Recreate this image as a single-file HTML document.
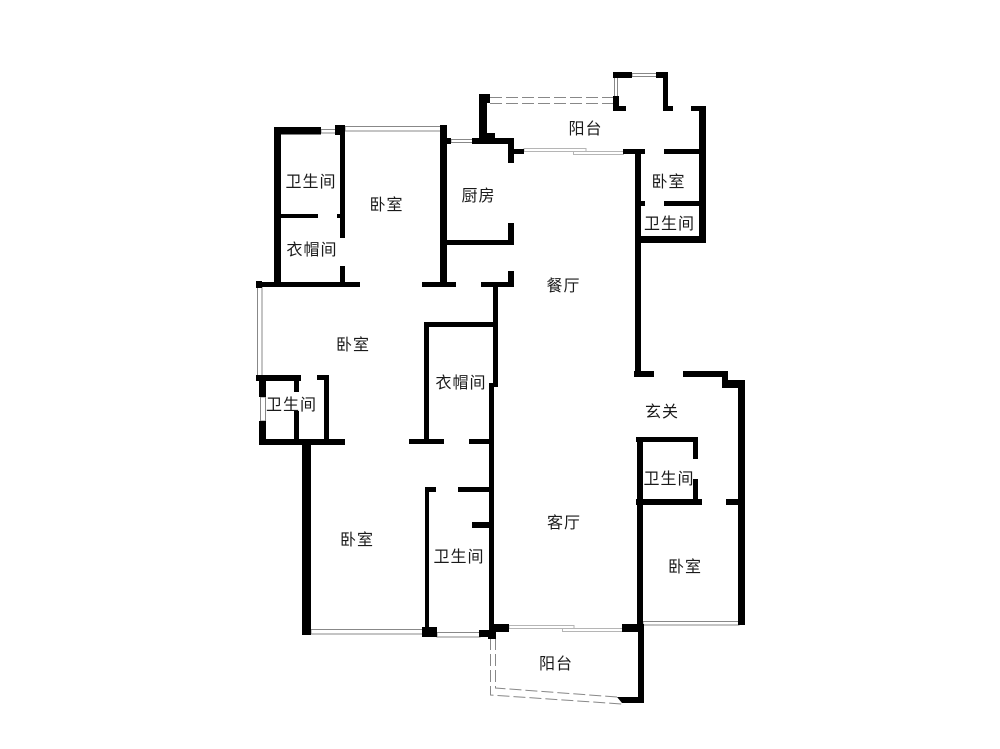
<!DOCTYPE html>
<html lang="zh">
<head>
<meta charset="utf-8">
<style>
html,body{margin:0;padding:0;background:#fff;}
svg{display:block;}
text{font-family:"Liberation Sans","Noto Sans CJK SC",sans-serif;font-size:16px;letter-spacing:1px;fill:#1a1a1a;text-anchor:middle;}
</style>
</head>
<body>
<svg width="1000" height="749" viewBox="0 0 1000 749" xmlns="http://www.w3.org/2000/svg">
<rect width="1000" height="749" fill="#fff"/>
<!-- windows -->
<g fill="#fff" stroke="#888" stroke-width="1">
<rect x="321" y="129.5" width="15" height="3.5"/>
<rect x="345" y="126.5" width="96" height="4.5"/>
<rect x="451" y="139.5" width="22" height="3"/>
<rect x="632" y="73.5" width="25" height="3"/>
<rect x="614.5" y="77" width="3" height="31"/>
<rect x="257.5" y="286" width="4.5" height="90"/>
<rect x="260.5" y="397" width="5" height="24"/>
<rect x="311" y="629.5" width="112" height="4.5"/>
<rect x="437" y="632.5" width="43" height="4.5"/>
<rect x="643" y="621.5" width="96" height="3.5"/>
</g>
<g fill="#fff" stroke="#b5b5b5" stroke-width="1">
<rect x="524" y="148.5" width="62" height="3"/>
<rect x="573.5" y="151.5" width="50" height="3"/>
<rect x="509" y="625.5" width="65" height="3"/>
<rect x="562.5" y="628.5" width="60" height="3"/>
</g>
<!-- dashed -->
<g fill="none" stroke="#888" stroke-width="1" stroke-dasharray="12 4">
<path d="M490 97.5H613"/>
<path d="M490 103.5H613"/>
<path d="M490.5 638V695L622 704"/>
<path d="M495.5 638V688L617 697"/>
</g>
<!-- walls -->
<g fill="#000">
<rect x="274" y="127" width="47" height="7.5"/>
<rect x="274" y="127" width="7" height="160"/>
<rect x="335" y="125" width="10" height="10"/>
<rect x="340" y="125" width="5" height="113"/>
<rect x="340" y="266" width="5" height="20"/>
<rect x="281" y="214" width="37" height="4"/>
<rect x="337" y="214" width="4" height="4"/>
<rect x="440" y="125" width="7" height="160"/>
<rect x="447" y="138" width="4" height="6"/>
<rect x="472" y="138" width="42" height="6"/>
<rect x="479" y="94" width="11" height="9"/>
<rect x="479" y="94" width="8" height="46"/>
<rect x="479" y="133" width="16" height="6"/>
<rect x="508" y="138" width="6" height="25"/>
<rect x="514" y="149" width="10" height="5"/>
<rect x="447" y="240" width="67" height="5"/>
<rect x="508" y="223" width="6" height="22"/>
<rect x="256" y="282" width="104" height="5"/>
<rect x="256" y="281" width="6" height="7"/>
<rect x="422" y="282" width="34" height="5"/>
<rect x="481" y="282" width="33" height="5"/>
<rect x="508" y="271" width="6" height="16"/>
<!-- top bay -->
<rect x="613" y="72" width="19" height="6"/>
<rect x="656" y="72" width="12" height="6"/>
<rect x="663" y="72" width="5" height="39"/>
<rect x="663" y="106" width="10" height="5"/>
<rect x="613" y="96" width="6" height="15"/>
<rect x="613" y="106" width="13" height="5"/>
<rect x="691" y="106" width="15" height="5"/>
<rect x="699" y="106" width="7" height="137"/>
<rect x="623" y="149" width="22" height="5"/>
<rect x="664" y="149" width="36" height="5"/>
<rect x="635" y="201" width="10" height="5"/>
<rect x="664" y="201" width="36" height="5"/>
<rect x="635" y="236" width="71" height="7"/>
<rect x="635" y="149" width="6" height="226"/>
<!-- entry -->
<rect x="634" y="371" width="20" height="6"/>
<rect x="683" y="371" width="45" height="6"/>
<rect x="722" y="371" width="6" height="17"/>
<rect x="722" y="380" width="23" height="8"/>
<rect x="738" y="380" width="7" height="245"/>
<rect x="636" y="437" width="62" height="5"/>
<rect x="693" y="437" width="5" height="22"/>
<rect x="693" y="479" width="5" height="21"/>
<rect x="636" y="499" width="66" height="6"/>
<rect x="726" y="499" width="12" height="6"/>
<rect x="637" y="437" width="6" height="190"/>
<!-- left bath -->
<rect x="256" y="375" width="45" height="6"/>
<rect x="259" y="381" width="7" height="16"/>
<rect x="259" y="421" width="7" height="24"/>
<rect x="294" y="381" width="5" height="11"/>
<rect x="294" y="411" width="5" height="29"/>
<rect x="317" y="375" width="12" height="5"/>
<rect x="324" y="375" width="5" height="65"/>
<rect x="259" y="439" width="86" height="6"/>
<rect x="302" y="445" width="9" height="190"/>
<!-- closet -->
<rect x="424" y="322" width="5" height="118"/>
<rect x="424" y="322" width="71" height="5"/>
<rect x="493" y="282" width="5" height="105"/>
<rect x="489" y="383" width="9" height="4"/>
<rect x="489" y="383" width="5" height="247"/>
<rect x="409" y="439" width="35" height="5"/>
<rect x="469" y="439" width="21" height="5"/>
<rect x="425" y="487" width="11" height="5"/>
<rect x="458" y="487" width="32" height="5"/>
<rect x="425" y="487" width="4" height="142"/>
<rect x="472" y="522" width="18" height="6"/>
<!-- bottom -->
<rect x="422" y="627" width="15" height="10"/>
<rect x="479" y="630" width="17" height="7"/>
<rect x="488" y="630" width="8" height="9"/>
<rect x="494" y="624" width="15" height="8"/>
<rect x="622" y="624" width="22" height="8"/>
<rect x="638" y="624" width="6" height="79"/>
<polygon points="617,697 644,697 644,703 622,703"/>
</g>
<!-- labels -->
<g>
<text x="585.5" y="134">阳台</text>
<text x="668.5" y="187">卧室</text>
<text x="669.5" y="229">卫生间</text>
<text x="311" y="187">卫生间</text>
<text x="386.5" y="210">卧室</text>
<text x="478.5" y="201">厨房</text>
<text x="312" y="255">衣帽间</text>
<text x="563.5" y="291">餐厅</text>
<text x="353" y="350">卧室</text>
<text x="461" y="388">衣帽间</text>
<text x="291.5" y="410">卫生间</text>
<text x="662" y="417">玄关</text>
<text x="669" y="484">卫生间</text>
<text x="564" y="528">客厅</text>
<text x="357" y="545">卧室</text>
<text x="459" y="562">卫生间</text>
<text x="685" y="572">卧室</text>
<text x="556" y="669">阳台</text>
</g>
</svg>
</body>
</html>
